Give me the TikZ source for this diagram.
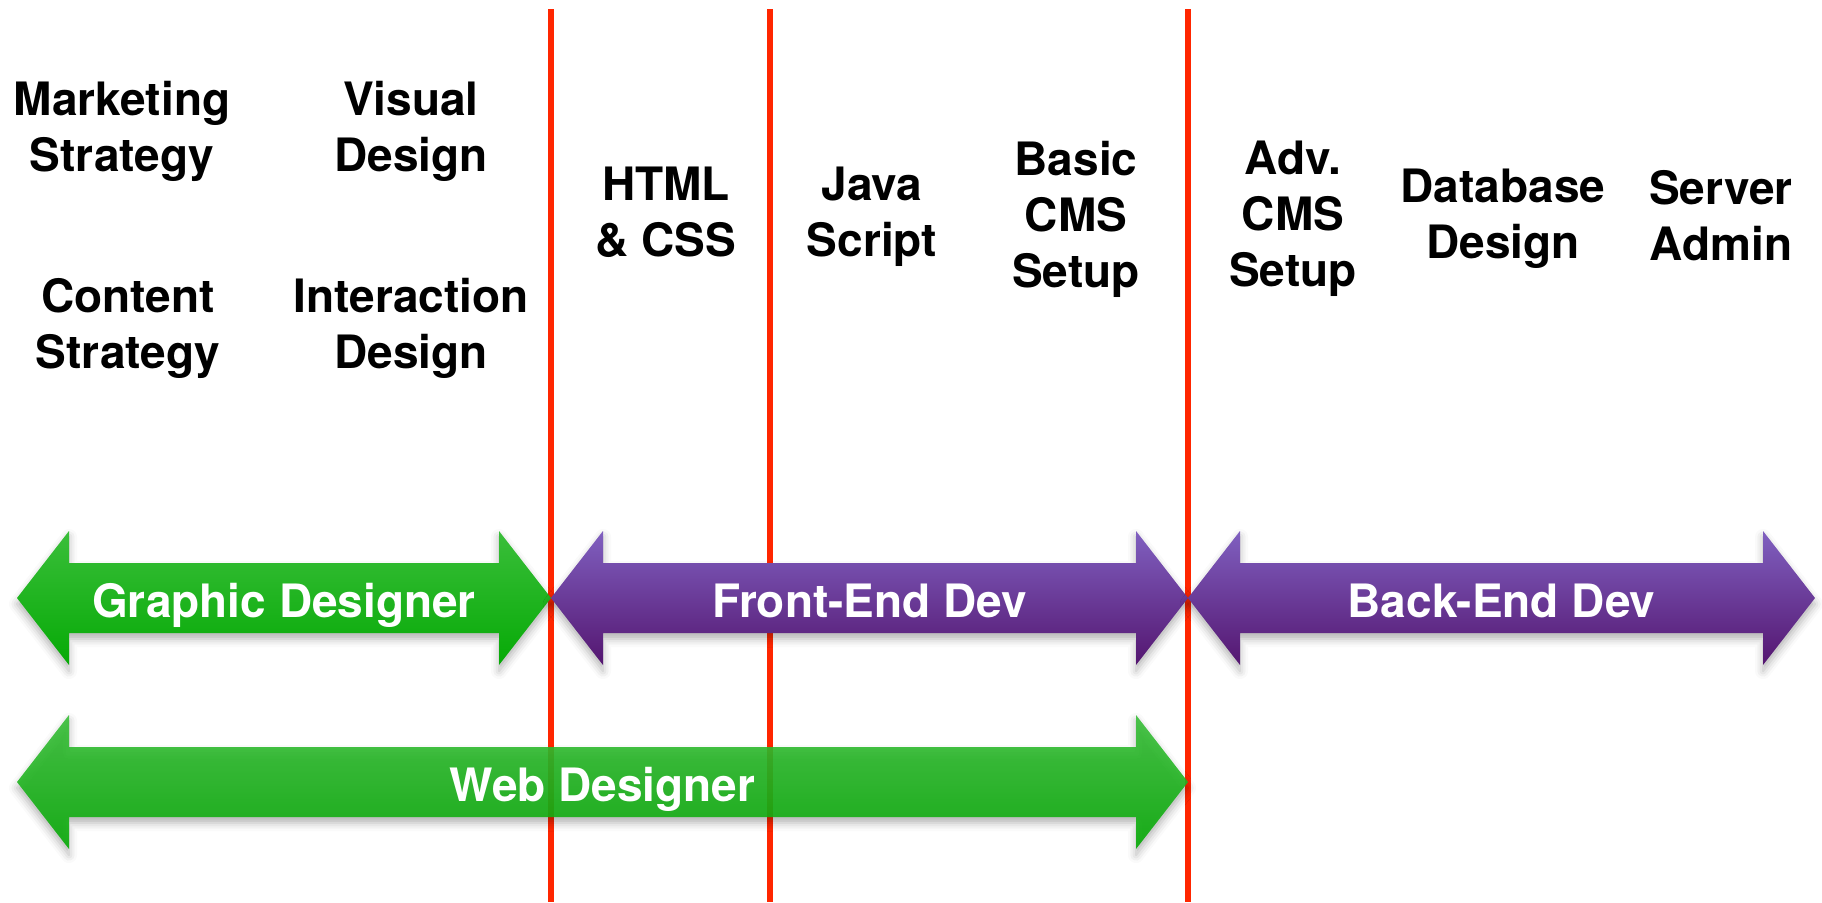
\documentclass[tikz,border=0pt]{standalone}
\usepackage{fontspec}
\setmainfont{TeX Gyre Heros}
\usepackage{tikz}
\usetikzlibrary{shadows.blur}
\definecolor{divred}{RGB}{255,38,0}
\definecolor{greentop}{RGB}{58,190,58}
\definecolor{greenbot}{RGB}{6,170,6}
\definecolor{purpletop}{RGB}{128,96,192}
\definecolor{purplebot}{RGB}{84,22,112}
\tikzset{
  divider/.style={divred,line width=3.2pt},
  skill/.style={align=center,anchor=north,inner sep=0pt,
    font=\fontsize{23}{28}\selectfont\bfseries},
  rolelabel/.style={anchor=base,inner sep=0pt,text=white,
    font=\fontsize{23}{28}\selectfont\bfseries},
  arrowshadow/.style={blur shadow={shadow xshift=0pt,shadow yshift=-3pt,
    shadow blur radius=4pt,shadow opacity=30}},
  greenarrow/.style={top color=greentop,bottom color=greenbot,arrowshadow},
  purplearrow/.style={top color=purpletop,bottom color=purplebot,arrowshadow}
}
% #1 style, #2 left tip x, #3 right tip x, #4 mid y, #5 name, #6 label
\newcommand{\rolearrow}[6]{
  \path[#1] (#2,#4) -- ++(52,-67) -- ++(0,32) -- ({#3-52},{#4-35})
    -- ++(0,-32) -- (#3,#4) -- ++(-52,67) -- ++(0,-32)
    -- ({#2+52},{#4+35}) -- ++(0,32) -- cycle;
  \node[rolelabel] (#5) at ({(#2+#3)/2},{#4+19}) {#6};
}

\begin{document}
\begin{tikzpicture}[x=0.5pt,y=-0.5pt]
  \useasboundingbox (0,0) rectangle (1822,902);
  % dividers
  \foreach \xd in {551,770,1188}
    \draw[divider] (\xd,9) -- (\xd,902);
  % skills
  \node[skill] (mkt) at (122,81) {Marketing\\Strategy};
  \node[skill] (vis) at (411,81) {Visual\\Design};
  \node[skill] (cnt) at (128,278) {Content\\Strategy};
  \node[skill] (ixd) at (411,278) {Interaction\\Design};
  \node[skill] (html) at (666,167) {HTML\\\& CSS};
  \node[skill] (js) at (872,167) {Java\\Script};
  \node[skill] (bcms) at (1076,141) {Basic\\CMS\\Setup};
  \node[skill] (acms) at (1293,141) {Adv.\\CMS\\Setup};
  \node[skill] (db) at (1503,169) {Database\\Design};
  \node[skill] (srv) at (1721,170) {Server\\Admin};
  % roles
  \rolearrow{greenarrow}{17}{551}{598}{gd}{Graphic Designer}
  \rolearrow{purplearrow}{551}{1188}{598}{fe}{Front-End Dev}
  \rolearrow{purplearrow}{1188}{1815}{598}{be}{Back-End Dev}
  \rolearrow{greenarrow,fill opacity=0.9}{17}{1188}{782}{wd}{Web Designer}
\end{tikzpicture}
\end{document}
